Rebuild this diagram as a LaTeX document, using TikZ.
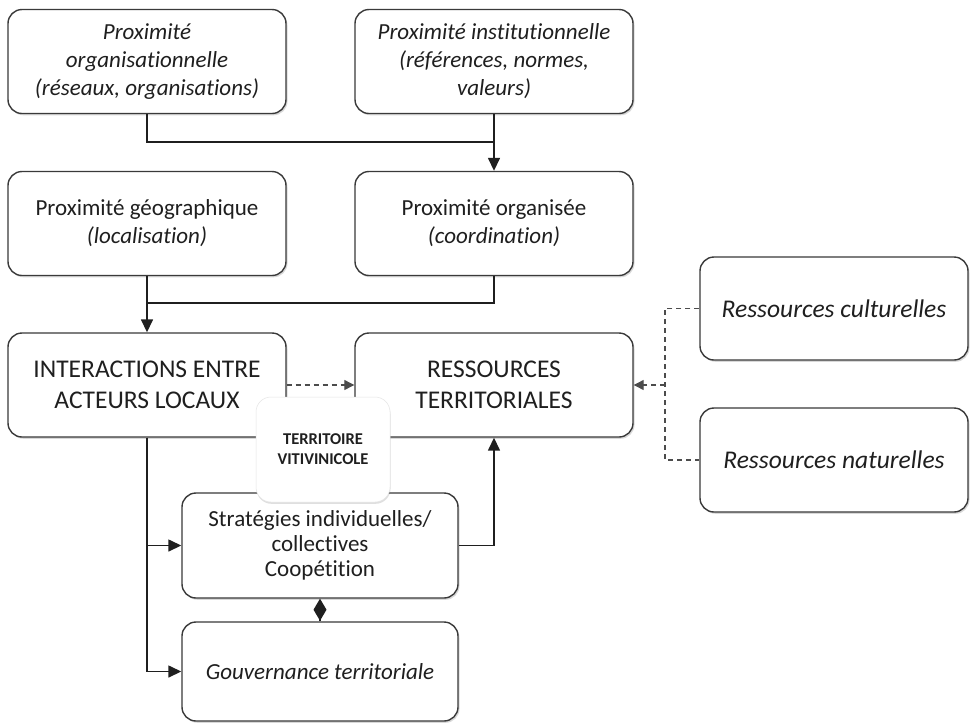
\documentclass[tikz,border=0pt]{standalone}
\usepackage{fontspec}
\setmainfont{Carlito}[Ligatures={NoCommon}]
\usetikzlibrary{arrows.meta,shadows}
\definecolor{edge}{HTML}{3A3A3A}
\definecolor{txt}{HTML}{1F1F1F}
\tikzset{
 box/.style={draw=edge, line width=1.4pt, rounded corners=14pt, fill=white,
   minimum width=278pt, minimum height=104pt, align=center, text=txt, inner sep=0pt,
   font=\fontsize{23}{28}\selectfont,
   drop shadow={shadow xshift=1.5pt, shadow yshift=-1.8pt, opacity=0.3, fill=gray}},
 bigbox/.style={box, font=\fontsize{25.5}{31}\selectfont},
 terrbox/.style={draw=black!10, line width=0.5pt, rounded corners=15pt, fill=white,
   minimum width=134pt, minimum height=105pt, align=center, text=txt, inner sep=0pt,
   font=\bfseries\fontsize{16.5}{20}\selectfont,
   drop shadow={shadow xshift=0.5pt, shadow yshift=-1.8pt, opacity=0.25, fill=gray}},
 conn/.style={draw=txt, line width=1.5pt},
 arr/.style={conn, -{Triangle[length=13pt,width=12pt]}},
 ddash/.style={conn, draw=black!70, line width=1.2pt, dash pattern=on 5pt off 4pt},
 darr/.style={ddash, -{Triangle[length=10pt,width=10pt]}},
 diam/.style={conn, -{Diamond[length=22pt,width=13pt]}},
}
\begin{document}
\begin{tikzpicture}[x=1pt,y=-1pt]
\fill[white] (0,0) rectangle (970,724);
\useasboundingbox (0,0) rectangle (970,724);

\node[box] (b1) at (147,61.5) {\itshape Proximité\\\itshape organisationnelle\\\itshape (réseaux, organisations)};
\node[box] (b2) at (494,61.5) {\itshape Proximité institutionnelle\\\itshape (références, normes,\\\itshape valeurs)};
\node[box] (b3) at (147,223.5) {Proximité géographique\\\itshape (localisation)};
\node[box] (b4) at (494,223.5) {Proximité organisée\\\itshape (coordination)};
\node[bigbox] (b5) at (147,385) {INTERACTIONS ENTRE\\ACTEURS LOCAUX};
\node[bigbox] (b6) at (494,385) {RESSOURCES\\TERRITORIALES};
\node[bigbox, minimum width=268pt, minimum height=103pt] (b7) at (834,308.5) {\itshape Ressources culturelles};
\node[bigbox, minimum width=268pt] (b8) at (834,460) {\itshape Ressources naturelles};
\node[box, minimum width=276pt, minimum height=105pt, font=\fontsize{23}{25}\selectfont] (st) at (320,545.5) {Stratégies individuelles/\\collectives\\Coopétition};
\node[box, minimum width=276pt, minimum height=99pt] (gv) at (320,671.5) {\itshape Gouvernance territoriale};

\coordinate (j1) at (494,142);
\coordinate (j2) at (147,303);
\coordinate (rt) at (665,308.5);
\coordinate (rj) at (665,385);
\coordinate (rb) at (665,460);

\draw[conn] (b1.south) |- (j1);
\draw[arr] (b2.south) -- (b4.north);
\draw[conn] (b4.south) |- (j2);
\draw[arr] (b3.south) -- (b5.north);
\draw[darr] (b5.east) -- (b6.west);
\draw[ddash] (b7.west) -- (rt) -- (rb) -- (b8.west);
\draw[darr] (rj) -- (b6.east);
\draw[arr] (b5.south) |- (st.west);
\draw[arr] (b5.south) |- (gv.west);
\draw[arr] (st.east) -| (b6.south);
\draw[diam] (gv.north) -- (st.south);

\node[terrbox] (tv) at (323,449.5) {TERRITOIRE\\VITIVINICOLE};
\end{tikzpicture}
\end{document}
